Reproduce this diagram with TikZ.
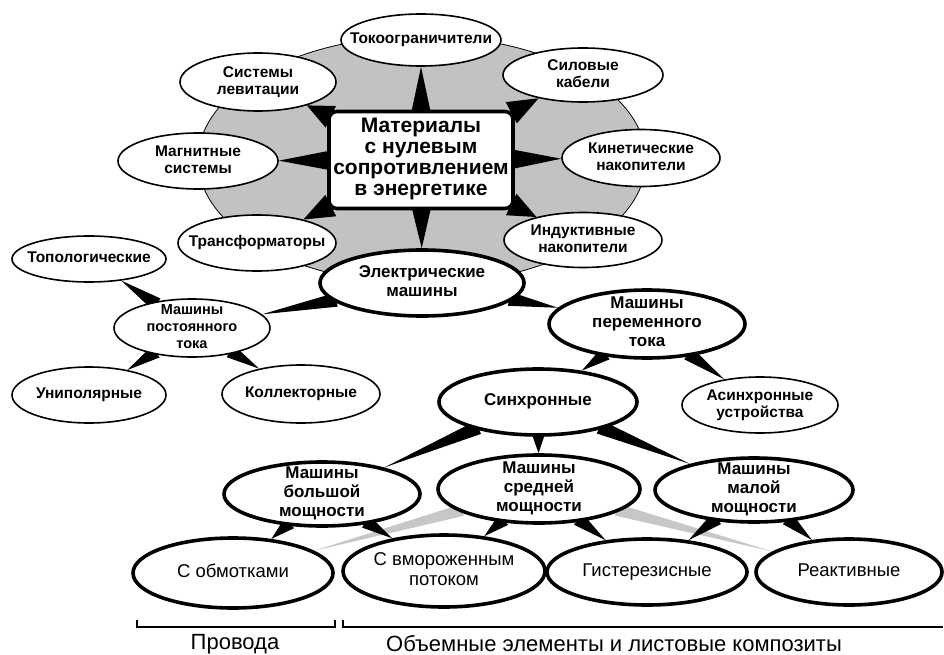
\documentclass[tikz,border=0pt]{standalone}
\usepackage{fontspec}
\setmainfont{Liberation Sans}
\usetikzlibrary{shapes.geometric}
\usetikzlibrary{calc}
\pgfdeclarelayer{back}
\pgfdeclarelayer{spikes}
\pgfsetlayers{back,spikes,main}
% text of a node, kept out of the size of its shape
\newcommand{\etxt}[1]{\raisebox{-0.25em}[0pt][0pt]{\makebox[0pt]{\begin{tabular}{@{}c@{}}#1\end{tabular}}}}
% black wedge: wide at #2, pointed at #3
\newcommand{\spike}[3][7pt]{%
  \path (#2) -- coordinate[pos=0] (s0) coordinate[pos=1] (s1) (#3);
  \coordinate (s2) at ($(s0)!-4pt!(s1)$);
  \fill ($(s2)!#1!90:(s1)$) -- ($(s2)!#1!-90:(s1)$) -- (s1) -- cycle;}
\tikzset{
sat/.style={
  ellipse,
  inner sep=0pt,
  draw=black,
  line width=1.6pt,
  fill=white,
  font=\fontsize{15.5}{17.5}\selectfont\bfseries
  },
satb/.style={sat,line width=3.6pt,font=\fontsize{17}{19}\selectfont\bfseries},
low/.style={satb,font=\fontsize{18.5}{20}\selectfont},
sz/.style 2 args={minimum width=#1pt,minimum height=#2pt},
hub/.style={
  rectangle,
  rounded corners=8pt,
  inner sep=0pt,
  draw=black,
  line width=3.6pt,
  fill=white,
  font=\fontsize{21}{21}\selectfont\bfseries
  },
lbl/.style={font=\fontsize{22}{22}\selectfont}
}

\begin{document}
\begin{tikzpicture}[x=1pt,y=-1pt]
        \useasboundingbox (0,0) rectangle (944,655);
        \begin{pgfonlayer}{back}
        \fill[black!24,draw=black,line width=0.8pt] (422,160) ellipse [x radius=224pt,y radius=124pt];
        \end{pgfonlayer}
        % energy applications
        \node[hub,sz={184}{97}] at (421,160) (box) {\etxt{Материалы\\с нулевым\\сопротивлением\\в энергетике}};
        \node[sat,sz={160}{52}] at (421,40) (tok) {\etxt{Токоограничители}};
        \node[sat,sz={156}{58}] at (258,82) (sys) {\etxt{Системы\\левитации}};
        \node[sat,sz={160}{54}] at (583,75) (sil) {\etxt{Силовые\\кабели}};
        \node[sat,sz={160}{56}] at (198,161) (mag) {\etxt{Магнитные\\системы}};
        \node[sat,sz={158}{57}] at (641,158) (kin) {\etxt{Кинетические\\накопители}};
        \node[sat,sz={158}{56}] at (257,243) (tr) {\etxt{Трансформаторы}};
        \node[sat,sz={158}{55}] at (583,240) (ind) {\etxt{Индуктивные\\накопители}};
        % machines
        \node[satb,sz={204}{66}] at (422,283) (el) {\etxt{Электрические\\машины}};
        \node[sat,sz={154}{46}] at (89,259) (top) {\etxt{Топологические}};
        \node[sat,sz={156}{58},font=\fontsize{14.5}{17}\selectfont\bfseries] at (192,328) (dc) {\etxt{Машины\\постоянного\\тока}};
        \node[sat,sz={154}{56}] at (89,395) (uni) {\etxt{Униполярные}};
        \node[sat,sz={158}{58}] at (301,394) (kol) {\etxt{Коллекторные}};
        \node[satb,sz={196}{68}] at (647,324) (ac) {\etxt{Машины\\переменного\\тока}};
        \node[satb,sz={198}{66}] at (538,402) (syn) {\etxt{Синхронные}};
        \node[sat,sz={156}{56}] at (760,405) (asyn) {\etxt{Асинхронные\\устройства}};
        \node[satb,sz={196}{64}] at (322,494) (big) {\etxt{Машины\\большой\\мощности}};
        \node[satb,sz={202}{68}] at (539,489) (mid) {\etxt{Машины\\средней\\мощности}};
        \node[satb,sz={198}{64}] at (754,490) (sml) {\etxt{Машины\\малой\\мощности}};
        \node[low,sz={200}{70}] at (233,573) (obm) {\etxt{С обмотками}};
        \node[low,sz={202}{72}] at (444,571) (vmor) {\etxt{С вмороженным\\потоком}};
        \node[low,sz={200}{66}] at (647,572) (gis) {\etxt{Гистерезисные}};
        \node[low,sz={186}{66}] at (849,572) (reak) {\etxt{Реактивные}};
        % brackets
        \draw[line width=1.2pt] (137,620) -- (137,627) -- (335,627) -- (335,620);
        \draw[line width=1.2pt] (343,620) -- (343,627) -- (943,627);
        \node[lbl] at (235,644) (wire) {Провода};
        \node[lbl] at (614,644) (bulk) {Объемные элементы и листовые композиты};
        \begin{pgfonlayer}{spikes}
        \foreach \b in {tok,kin,el,mag} \spike[10pt]{box}{\b};
        \foreach \b in {sys,sil,tr,ind} \spike[12pt]{box}{\b};
        \begin{scope}[fill=black!22]
        \foreach \b in {obm,reak} \spike[6pt]{mid}{\b};
        \end{scope}
        \foreach \a/\b in {el/dc,el/ac,dc/top,dc/uni,dc/kol,ac/syn,ac/asyn,syn/big,syn/mid,syn/sml,
          big/obm,big/vmor,mid/vmor,mid/gis,sml/gis,sml/reak} \spike{\a}{\b};
        \end{pgfonlayer}
    \end{tikzpicture}
\end{document}
